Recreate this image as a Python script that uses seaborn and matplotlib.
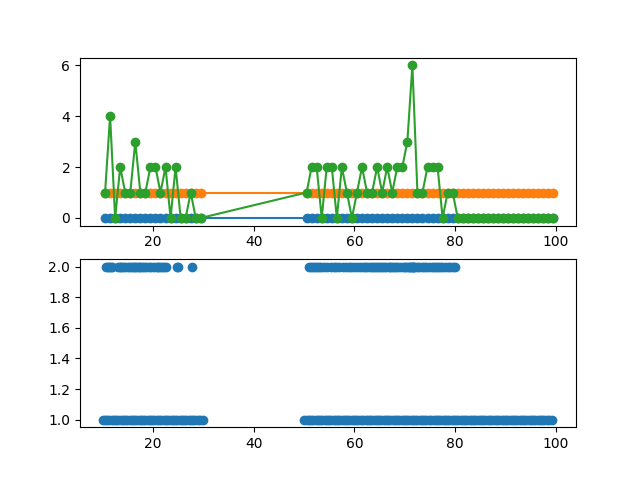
import pandas as pd
import seaborn as sns
import matplotlib
matplotlib.use('Agg')
import matplotlib.pyplot as plt

# top: per-bin values (bin centres)
bins = [10.5, 11.5, 12.5, 13.5, 14.5, 15.5, 16.5, 17.5, 18.5, 19.5,
        20.5, 21.5, 22.5, 23.5, 24.5, 25.5, 26.5, 27.5, 28.5, 29.5,
        50.5, 51.5, 52.5, 53.5, 54.5, 55.5, 56.5, 57.5, 58.5, 59.5,
        60.5, 61.5, 62.5, 63.5, 64.5, 65.5, 66.5, 67.5, 68.5, 69.5,
        70.5, 71.5, 72.5, 73.5, 74.5, 75.5, 76.5, 77.5, 78.5, 79.5,
        80.5, 81.5, 82.5, 83.5, 84.5, 85.5, 86.5, 87.5, 88.5, 89.5,
        90.5, 91.5, 92.5, 93.5, 94.5, 95.5, 96.5, 97.5, 98.5, 99.5]
count_zero = [0] * 70
count_one = [1] * 70
count_two = [1, 4, 0, 2, 1, 1, 3, 1, 1, 2, 2, 1, 2, 0, 2, 0, 0, 1, 0, 0,
             1, 2, 2, 0, 2, 2, 0, 2, 1, 0, 1, 2, 1, 1, 2, 1, 2, 1, 2, 2,
             3, 6, 1, 1, 2, 2, 2, 0, 1, 1, 0, 0, 0, 0, 0, 0, 0, 0, 0, 0,
             0, 0, 0, 0, 0, 0, 0, 0, 0, 0]

# bottom: raw events
x_level1 = [10.0, 10.4, 10.9, 11.3, 11.8, 12.2, 12.7, 13.1, 13.6, 14.0,
            14.5, 14.9, 15.4, 15.8, 16.3, 16.7, 17.2, 17.6, 18.1, 18.5,
            19.0, 19.4, 19.9, 20.3, 20.8, 21.2, 21.7, 22.1, 22.6, 23.0,
            23.5, 23.9, 24.4, 24.8, 25.3, 25.7, 26.2, 26.6, 27.1, 27.5,
            28.0, 28.4, 28.9, 29.3, 29.95,
            50.0, 50.5, 50.9, 51.4, 51.8, 52.3, 52.7, 53.2, 53.6, 54.1,
            54.5, 55.0, 55.4, 55.9, 56.3, 56.8, 57.2, 57.7, 58.1, 58.6,
            59.0, 59.5, 59.9, 60.4, 60.8, 61.3, 61.7, 62.2, 62.6, 63.1,
            63.5, 64.0, 64.4, 64.9, 65.3, 65.8, 66.2, 66.7, 67.1, 67.6,
            68.0, 68.5, 68.9, 69.4, 69.8, 70.3, 70.7, 71.2, 71.6, 72.1,
            72.5, 73.0, 73.4, 73.9, 74.3, 74.8, 75.2, 75.7, 76.1, 76.6,
            77.0, 77.5, 77.9, 78.4, 78.8, 79.3, 79.7, 80.2, 80.6, 81.1,
            81.5, 82.0, 82.4, 82.9, 83.3, 83.8, 84.2, 84.7, 85.1, 85.6,
            86.0, 86.5, 86.9, 87.4, 87.8, 88.3, 88.7, 89.2, 89.6, 90.1,
            90.5, 91.0, 91.4, 91.9, 92.3, 92.8, 93.2, 93.7, 94.1, 94.6,
            95.0, 95.5, 95.9, 96.4, 96.8, 97.3, 97.7, 98.2, 98.6, 99.2]
x_level2 = [10.6, 11.1, 11.3, 11.6, 11.8, 13.0, 13.4, 13.7, 14.1, 14.5,
            15.0, 15.4, 15.8, 16.2, 16.5, 16.9, 17.2, 17.5, 17.9, 18.3,
            18.7, 19.2, 19.7, 20.3, 20.8, 21.1, 21.4, 21.8, 22.1, 22.5,
            24.85, 24.9, 27.7,
            50.95, 51.3, 51.8, 52.2, 52.6, 52.9, 53.4, 54.0, 54.6, 55.3,
            55.9, 56.4, 57.0, 57.7, 58.3, 58.9, 59.4, 60.0, 60.5, 61.1,
            61.7, 62.1, 62.5, 63.0, 63.4, 63.8, 64.2, 64.7, 65.1, 65.5,
            65.9, 66.3, 66.8, 67.1, 67.4, 67.8, 68.2, 68.7, 69.3, 69.8,
            70.1, 70.5, 70.8, 71.0, 71.2, 71.4, 71.6, 71.8, 71.9, 72.4,
            72.9, 73.5, 73.9, 74.2, 74.7, 75.3, 75.8, 76.2, 76.6, 76.9,
            77.4, 78.0, 78.5, 79.0, 79.5, 79.95]

events = pd.DataFrame({
    'x': x_level1 + x_level2,
    'level': [1] * len(x_level1) + [2] * len(x_level2),
})

fig, (ax1, ax2) = plt.subplots(nrows=2, ncols=1, figsize=(6.4, 4.8), dpi=100)
ax2.sharex(ax1)

for vals, c in [(count_zero, 'C0'), (count_one, 'C1'), (count_two, 'C2')]:
    sns.lineplot(x=bins, y=vals, ax=ax1, color=c, marker='o',
                 markersize=6, mec=c, mew=1)

sns.scatterplot(data=events, x='x', y='level', ax=ax2, color='C0',
                s=36, edgecolor='face', linewidth=1)

for ax in (ax1, ax2):
    ax.set_xlabel('')
    ax.set_ylabel('')

plt.savefig('out.png')
